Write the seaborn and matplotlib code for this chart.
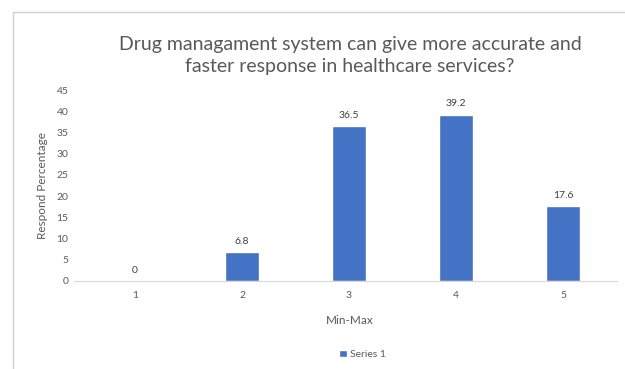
import matplotlib
matplotlib.use("Agg")
import matplotlib.pyplot as plt
import seaborn as sns
import pandas as pd
from matplotlib.patches import Rectangle

categories = ["1", "2", "3", "4", "5"]
values = [0, 6.8, 36.5, 39.2, 17.6]
yticks = [0, 5, 10, 15, 20, 25, 30, 35, 40, 45]

sns.set_theme(style="white")
plt.rcParams["font.family"] = ["Lato", "DejaVu Sans"]

df = pd.DataFrame({"Min-Max": categories, "Respond Percentage": values})

fig = plt.figure(figsize=(6.25, 3.69), dpi=100)
ax = fig.add_axes([0.1184, 0.2385, 0.868, 0.5175])
sns.barplot(data=df, x="Min-Max", y="Respond Percentage", color="#4472C4",
            width=0.32, ax=ax, saturation=1, label="Series 1")

text_color = "#595959"
ax.set_ylim(0, 45)
ax.set_xlim(-0.57, 4.5)
ax.set_yticks(yticks)
ax.set_yticklabels([str(t) for t in yticks], fontsize=7.5, color=text_color)
ax.tick_params(axis="x", labelsize=7.5, colors=text_color, length=0, pad=7)
ax.tick_params(axis="y", length=0, pad=4)
for s in ["top", "right", "left"]:
    ax.spines[s].set_visible(False)
ax.spines["bottom"].set_color("#d9d9d9")
ax.spines["bottom"].set_linewidth(0.8)

for i, v in enumerate(values):
    ax.text(i, v + 1.5, f"{v:g}", ha="center", va="bottom", fontsize=7.5, color="#404040")

ax.set_xlabel("Min-Max", fontsize=8.5, color=text_color)
ax.xaxis.set_label_coords(0.509, -0.18)
ax.set_ylabel("Respond Percentage", fontsize=8.5, color=text_color, labelpad=6)

fig.text(0.56, 0.85, "Drug managament system can give more accurate and\nfaster response in healthcare services?",
         ha="center", va="center", fontsize=14, color=text_color, linespacing=1.35)

leg = ax.legend(loc="center", bbox_to_anchor=(0.58, 0.04), bbox_transform=fig.transFigure,
                frameon=False, fontsize=7.5, handlelength=0.7, handleheight=0.7,
                handletextpad=0.3)
for t in leg.get_texts():
    t.set_color(text_color)

fig.patches.append(Rectangle((13 / 625, -0.1), 1.2, 1 - 12 / 369 + 0.1,
                             transform=fig.transFigure, fill=False,
                             edgecolor="#d0d0d0", linewidth=1.0))

fig.savefig("out.png", dpi=100, facecolor="white")
